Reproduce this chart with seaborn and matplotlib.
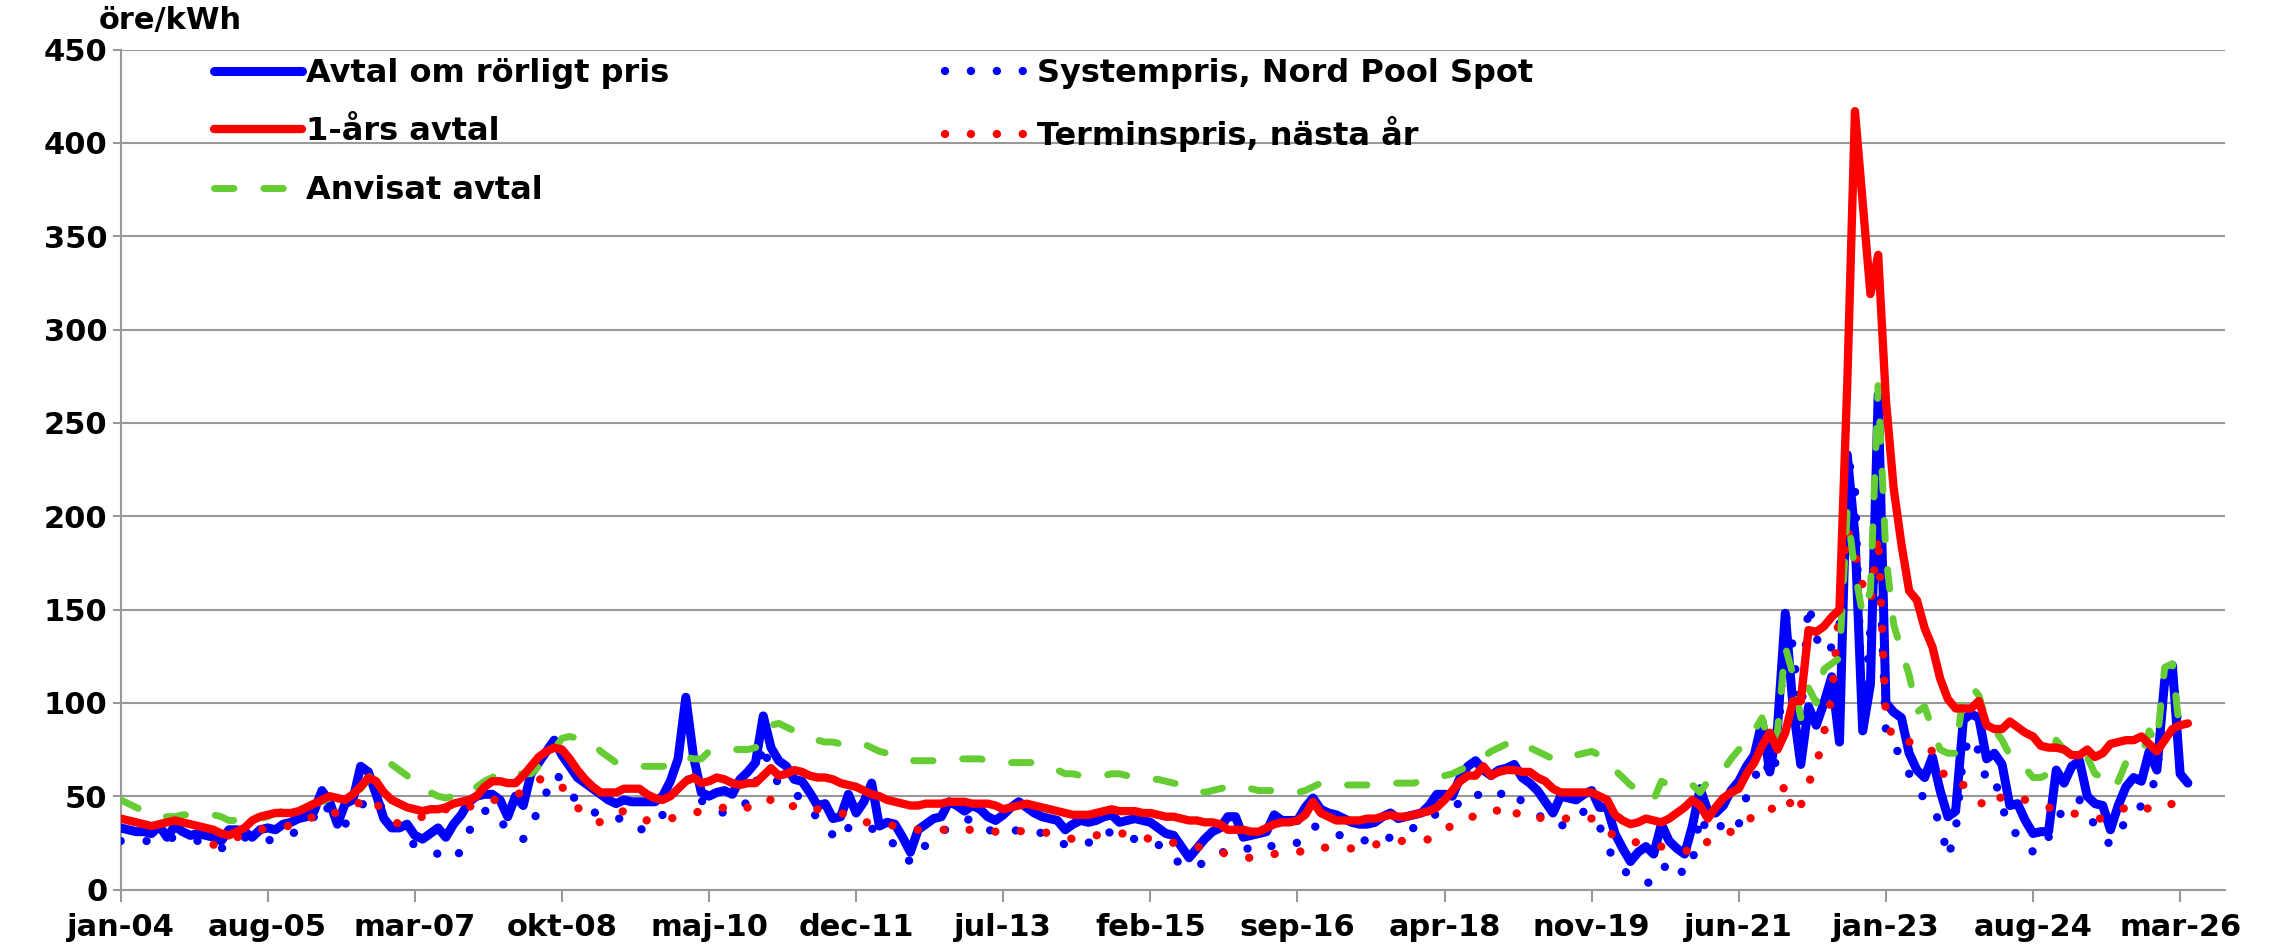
import numpy as np
import matplotlib
matplotlib.use("Agg")
import matplotlib.pyplot as plt
from matplotlib.lines import Line2D
import seaborn as sns

nan = np.nan

# Monthly prices in öre/kWh, January 2004 onwards
rorligt_pris = [
    33, 32, 31, 31, 30, 34, 28, 34, 31, 29, 30, 29,        # 2004
    28, 26, 32, 32, 31, 28, 32, 33, 32, 35, 36, 38,        # 2005
    39, 42, 53, 47, 35, 46, 48, 66, 63, 51, 38, 33,        # 2006
    33, 35, 29, 27, 30, 33, 28, 35, 40, 47, 50, 51,        # 2007
    51, 48, 39, 50, 45, 62, 68, 74, 80, 72, 66, 60,        # 2008
    57, 54, 51, 48, 46, 48, 47, 47, 47, 47, 50, 58,        # 2009
    70, 103, 71, 52, 50, 52, 53, 51, 59, 63, 68, 93,       # 2010
    76, 69, 66, 59, 58, 52, 45, 46, 38, 39, 51, 41,        # 2011
    47, 57, 34, 36, 35, 28, 20, 32, 35, 38, 39, 47,        # 2012
    45, 42, 45, 43, 39, 37, 40, 44, 47, 44, 41, 39,        # 2013
    38, 37, 32, 35, 37, 36, 37, 39, 40, 36, 37, 38,        # 2014
    37, 36, 33, 30, 29, 23, 17, 22, 27, 31, 33, 39,        # 2015
    39, 28, 29, 30, 31, 40, 37, 37, 37, 44, 49, 43,        # 2016
    41, 40, 38, 36, 35, 35, 36, 39, 41, 38, 39, 40,        # 2017
    41, 45, 51, 51, 50, 60, 66, 69, 64, 61, 64, 65,        # 2018
    67, 60, 57, 53, 47, 41, 50, 49, 48, 51, 53, 44,        # 2019
    44, 30, 22, 15, 20, 23, 19, 35, 26, 22, 19, 34,        # 2020
    54, 42, 41, 45, 53, 58, 66, 72, 90, 63, 87, 148,       # 2021
    98, 67, 98, 88, 100, 114, 79, 233, 190, 85, 110, 265,  # 2022
    100, 95, 92, 73, 64, 60, 71, 53, 39, 42, 91, 94,       # 2023
    92, 70, 73, 67, 45, 46, 37, 30, 31, 31, 64, 57,        # 2024
    66, 69, 50, 46, 45, 32, 45, 55, 60, 58, 74, 64,        # 2025
    112, 120, 62, 57,                                      # 2026
]

ettars_avtal = [
    38, 37, 36, 35, 34, 35, 36, 37, 36, 35, 34, 33,
    32, 30, 29, 31, 33, 37, 39, 40, 41, 41, 41, 42,
    44, 46, 48, 50, 49, 48, 51, 55, 60, 58, 52, 48,
    46, 44, 43, 42, 43, 43, 44, 46, 47, 48, 50, 55,
    58, 58, 57, 57, 61, 66, 71, 74, 76, 75, 70, 64,
    59, 55, 52, 52, 52, 54, 54, 54, 51, 49, 48, 50,
    54, 58, 60, 57, 58, 60, 59, 57, 56, 57, 57, 61,
    65, 61, 62, 64, 63, 61, 60, 60, 59, 57, 56, 55,
    53, 51, 50, 48, 47, 46, 45, 45, 46, 46, 46, 47,
    47, 47, 46, 46, 46, 45, 43, 44, 45, 46, 45, 44,
    43, 42, 41, 40, 40, 40, 41, 42, 43, 42, 42, 42,
    41, 41, 40, 39, 39, 38, 37, 37, 36, 36, 35, 32,
    32, 32, 31, 31, 33, 35, 36, 36, 37, 40, 47, 41,
    39, 37, 37, 37, 37, 38, 38, 39, 40, 39, 39, 40,
    41, 42, 44, 48, 53, 58, 61, 61, 66, 61, 63, 64,
    64, 63, 63, 60, 58, 54, 52, 52, 52, 52, 52, 50,
    48, 40, 37, 35, 36, 38, 37, 36, 38, 41, 44, 48,
    45, 38, 44, 49, 52, 54, 62, 68, 77, 84, 75, 84,
    101, 101, 139, 138, 141, 146, 150, 270, 417, 368, 319, 340,
    262, 215, 185, 160, 155, 140, 130, 113, 102, 97, 97, 97,
    101, 88, 86, 86, 90, 87, 84, 82, 77, 76, 76, 75,
    72, 72, 75, 71, 73, 78, 79, 80, 80, 82, 78, 74,
    80, 86, 88, 89,
]

anvisat_avtal = [
    48, 46, 44, 42, 40, 39, 39, 39, 40, 40, 40, 40,
    40, 39, 37, 37, 36, 37, 38, 39, 41, 42, 43, 44,
    45, 46, 47, 49, 51, 53, 53, 54, 59, 67, 68, 67,
    64, 61, 57, 54, 52, 50, 49, 50, 51, 51, 55, 58,
    60, 63, 63, 62, 62, 62, 66, 70, 75, 81, 82, 81,
    80, 78, 74, 71, 68, 67, 67, 66, 66, 66, 66, 66,
    68, 71, 70, 70, 74, 75, 75, 75, 75, 75, 76, 80,
    88, 89, 87, 85, 83, 81, 80, 79, 79, 78, 79, 79,
    78, 76, 74, 73, 71, 70, 69, 69, 69, 69, 70, 70,
    70, 70, 70, 70, 69, 69, 68, 68, 68, 68, 68, 67,
    66, 64, 62, 62, 61, 61, 61, 61, 62, 62, 61, 60,
    60, 59, 59, 58, 57, 56, 55, 54, 52, 53, 54, 55,
    56, 55, 54, 53, 53, 53, 53, 52, 52, 53, 55, 57,
    57, 57, 56, 56, 56, 56, 56, 56, 57, 57, 57, 57,
    58, 58, 60, 61, 62, 64, 66, 68, 71, 74, 76, 78,
    80, 79, 76, 74, 72, 70, 69, 70, 72, 73, 74, 72,
    66, 64, 60, 56, 53, 50, 48, 58, 56, 55, 55, 56,
    52, 58, 62, 64, 70, 75, 78, 85, 92, 76, 85, 130,
    115, 92, 108, 100, 118, 121, 124, 203, 170, 147, 160, 270,
    179, 142, 128, 115, 95, 98, 86, 75, 73, 73, 105, 109,
    104, 90, 86, 80, 72, 68, 65, 60, 60, 62, 80, 75,
    76, 75, 71, 62, 60, 54, 58, 68, 70, 71, 85, 78,
    119, 121, 82, nan,
]

systempris = [
    26, 26, 26, 26, 26, 27, 27, 28, 28, 27, 26, 25,
    24, 22, 24, 27, 28, 26, 25, 26, 28, 28, 30, 31,
    35, 39, 47, 42, 36, 35, 40, 44, 50, 47, 43, 37,
    28, 26, 24, 23, 21, 19, 17, 16, 21, 31, 40, 42,
    43, 37, 32, 31, 27, 34, 43, 52, 62, 59, 52, 47,
    44, 42, 39, 38, 38, 38, 35, 32, 33, 36, 40, 45,
    58, 61, 53, 48, 42, 42, 41, 41, 44, 47, 55, 78,
    62, 57, 54, 52, 48, 44, 38, 35, 29, 26, 33, 34,
    35, 33, 28, 27, 24, 23, 14, 18, 24, 27, 31, 33,
    36, 37, 38, 36, 32, 31, 31, 31, 32, 33, 32, 30,
    28, 26, 24, 23, 24, 25, 28, 32, 30, 28, 28, 27,
    27, 26, 24, 22, 16, 14, 12, 12, 15, 19, 20, 20,
    21, 23, 21, 20, 22, 24, 25, 25, 25, 29, 34, 33,
    31, 30, 28, 27, 27, 26, 25, 26, 28, 30, 31, 33,
    35, 37, 41, 42, 43, 47, 52, 51, 50, 48, 50, 54,
    52, 47, 43, 41, 36, 34, 34, 36, 37, 42, 40, 34,
    24, 14, 11, 7, 7, 4, 3, 9, 16, 12, 8, 14,
    40, 30, 30, 36, 32, 35, 50, 57, 77, 60, 71, 148,
    130, 90, 153, 135, 126, 130, 140, 233, 215, 85, 140, 195,
    85, 80, 68, 62, 55, 48, 43, 36, 17, 31, 73, 82,
    74, 58, 60, 45, 31, 30, 27, 20, 20, 28, 35, 45,
    47, 48, 42, 34, 28, 24, 30, 37, 40, 45, 52, 60,
    110, 115, 80, nan,
]

terminspris = [
    nan, nan, nan, nan, nan, nan, nan, nan, nan, nan, nan, nan,
    24, 24, 26, 28, 29, 31, 32, 33, 33, 34, 34, 35,
    36, 40, 42, 41, 41, 42, 44, 47, 50, 46, 42, 37,
    35, 36, 38, 39, 41, 43, 43, 42, 42, 44, 47, 48,
    48, 48, 49, 50, 53, 57, 59, 59, 59, 55, 50, 44,
    40, 37, 36, 38, 41, 42, 40, 38, 37, 37, 37, 38,
    39, 40, 41, 42, 42, 43, 44, 43, 42, 44, 48, 48,
    48, 45, 43, 45, 46, 44, 43, 43, 42, 41, 40, 38,
    36, 36, 35, 35, 34, 33, 32, 32, 32, 32, 32, 32,
    32, 32, 32, 31, 31, 31, 31, 30, 31, 32, 32, 31,
    30, 29, 28, 27, 27, 28, 29, 30, 30, 30, 30, 29,
    28, 27, 27, 26, 25, 24, 24, 23, 22, 21, 20, 19,
    18, 17, 17, 18, 19, 19, 20, 20, 20, 21, 23, 23,
    22, 22, 22, 22, 23, 23, 24, 25, 26, 26, 26, 26,
    26, 27, 28, 31, 35, 37, 39, 39, 40, 40, 43, 46,
    42, 38, 38, 38, 39, 39, 38, 38, 39, 39, 38, 36,
    32, 28, 27, 26, 25, 24, 23, 23, 22, 21, 21, 20,
    20, 26, 28, 29, 31, 33, 34, 42, 43, 43, 44, 57,
    40, 45, 57, 66, 84, 103, 150, 193, 180, 163, 154, 190,
    92, 80, 78, 79, 80, 77, 74, 66, 57, 56, 56, 52,
    48, 43, 46, 50, 50, 50, 48, 46, 45, 44, 43, 42,
    41, 40, 39, 38, 38, 40, 42, 44, 46, 45, 43, 42,
    44, 46, nan, nan,
]

tick_labels = ["jan-04", "aug-05", "mar-07", "okt-08", "maj-10", "dec-11",
               "jul-13", "feb-15", "sep-16", "apr-18", "nov-19", "jun-21",
               "jan-23", "aug-24", "mar-26"]
y_ticks = [0, 50, 100, 150, 200, 250, 300, 350, 400, 450]

sns.set_theme(style="white")
plt.rcParams["font.family"] = ["DejaVu Sans"]
plt.rcParams["font.weight"] = "bold"
plt.rcParams["text.color"] = "black"

BLUE = "#0000FF"
RED = "#FF0000"
GREEN = "#66CC33"
GRID = "#999999"
FS = 22
FS_LEG = 23

DOT = (0, (0.01, 3.1))
DASH = (0, (2.8, 4.3))

series = [
    # label, values, color, width, style, zorder
    ("Avtal om rörligt pris", rorligt_pris, BLUE, 6.5, "-", 3),
    ("Systempris, Nord Pool Spot", systempris, BLUE, 6.0, DOT, 4),
    ("Terminspris, nästa år", terminspris, RED, 6.0, DOT, 5),
    ("Anvisat avtal", anvisat_avtal, GREEN, 5.0, DASH, 6),
    ("1-års avtal", ettars_avtal, RED, 6.0, "-", 7),
]

fig = plt.figure(figsize=(22.8, 9.47), dpi=100)
ax = fig.add_axes([0.0529, 0.0607, 0.9230, 0.8870])

handles = {}
for label, vals, color, lw, ls, z in series:
    y = np.asarray(vals, dtype=float)
    x = np.arange(len(y))
    ok = ~np.isnan(y)
    sns.lineplot(x=x[ok], y=y[ok], ax=ax, color=color, linewidth=lw,
                 estimator=None, sort=False, legend=False)
    line = ax.lines[-1]
    line.set_linestyle(ls)
    line.set_dash_capstyle("round")
    line.set_solid_capstyle("round")
    line.set_solid_joinstyle("round")
    line.set_zorder(z)
    handles[label] = Line2D([0], [0], color=color, lw=lw, linestyle=ls,
                            dash_capstyle="round", solid_capstyle="round")

ax.set_xlim(0, 271.8)
ax.set_ylim(0, 450)
ax.set_yticks(y_ticks)
ax.set_yticklabels([str(v) for v in y_ticks])
ax.set_xticks(np.arange(0, 19 * len(tick_labels), 19))
ax.set_xticklabels(tick_labels)
ax.set_xlabel("")
ax.set_ylabel("")

ax.grid(axis="y", color=GRID, linewidth=1.5, zorder=0)
ax.set_axisbelow(True)
for side in ("top", "right"):
    ax.spines[side].set_visible(False)
for side in ("left", "bottom"):
    ax.spines[side].set_color(GRID)
    ax.spines[side].set_linewidth(1.5)

ax.tick_params(axis="x", direction="out", length=8.6, width=1.5, color=GRID,
               pad=8, labelsize=FS, bottom=True)
ax.tick_params(axis="y", direction="out", length=5.5, width=1.5, color=GRID,
               pad=4, labelsize=FS, left=True)
for t in ax.get_xticklabels() + ax.get_yticklabels():
    t.set_fontweight("bold")
    t.set_color("black")

fig.text(99 / 2280, 1 - 21 / 947, "öre/kWh", fontsize=FS, fontweight="bold",
         ha="left", va="center", color="black")

leg_kw = dict(loc="upper left", frameon=False, fontsize=FS_LEG, borderpad=0,
              borderaxespad=0, handlelength=2.75, handletextpad=0.12,
              labelspacing=0.86, bbox_transform=fig.transFigure)
col1 = ["Avtal om rörligt pris", "1-års avtal", "Anvisat avtal"]
col2 = ["Systempris, Nord Pool Spot", "Terminspris, nästa år"]
leg1 = ax.legend([handles[k] for k in col1], col1,
                 bbox_to_anchor=(214 / 2280, 1 - 58 / 947), **leg_kw)
ax.add_artist(leg1)
leg2 = ax.legend([handles[k] for k in col2], col2,
                 bbox_to_anchor=(945 / 2280, 1 - 58 / 947), **leg_kw)
for lg in (leg1, leg2):
    for t in lg.get_texts():
        t.set_fontweight("bold")
        t.set_color("black")
    lg.set_zorder(10)

fig.savefig("out.png", dpi=100, facecolor="white")
